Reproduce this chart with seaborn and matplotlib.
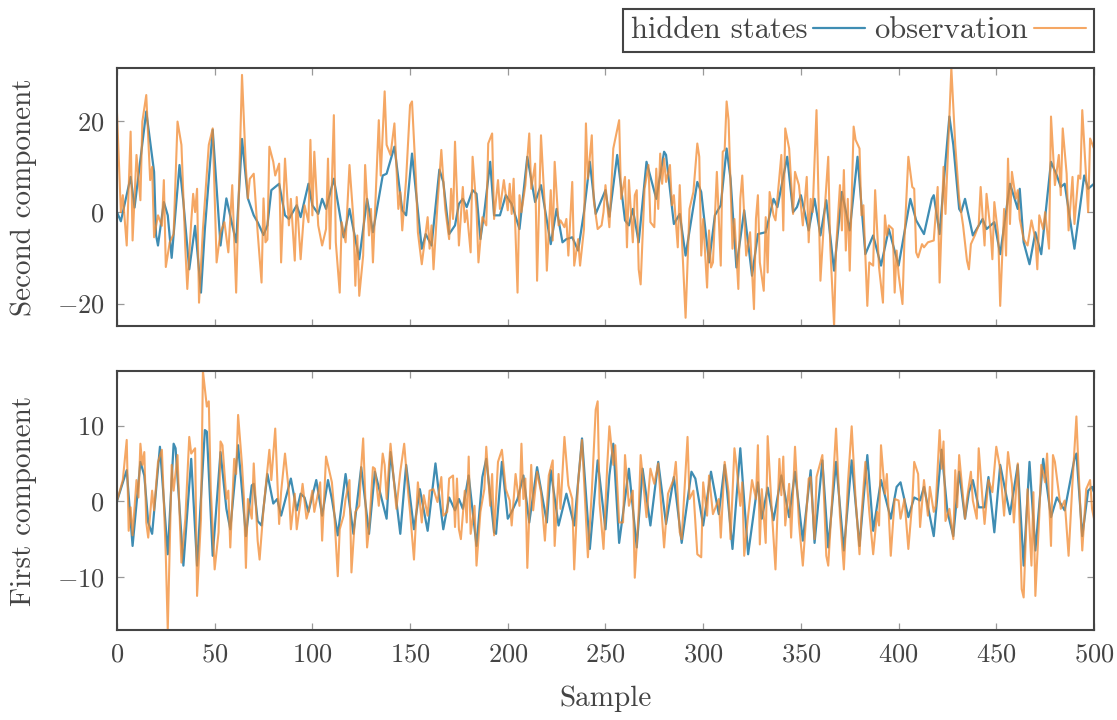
import matplotlib
matplotlib.use("Agg")
import matplotlib.pyplot as plt
import seaborn as sns
import pandas as pd

# values (sample index, value)
top_hidden_x = [0, 2, 7, 9, 15, 19, 20, 21, 24, 26, 28, 32, 34, 37, 40, 43, 45, 49, 53, 56, 61, 64, 67, 70, 72, 75, 77, 79, 83,
                86, 88, 92, 94, 98, 100, 103, 105, 107, 111, 116, 119, 124, 128, 131, 136, 138, 142, 146, 148, 151, 156, 158, 161,
                165, 167, 170, 173, 175, 177, 179, 182, 184, 186, 188, 191, 193, 196, 199, 202, 206, 210, 214, 217, 222, 225, 228,
                230, 233, 236, 239, 242, 245, 250, 252, 256, 260, 262, 264, 267, 271, 276, 280, 281, 285, 288, 291, 297, 299, 303,
                306, 309, 312, 314, 317, 321, 325, 328, 332, 336, 338, 343, 346, 348, 350, 354, 357, 360, 363, 367, 371, 375, 379,
                383, 387, 391, 395, 400, 406, 409, 413, 417, 418, 421, 424, 426, 428, 431, 432, 434, 438, 443, 445, 449, 452, 457,
                461, 462, 464, 467, 470, 473, 478, 481, 483, 485, 490, 495, 497, 500]
top_hidden_y = [0, -2, 7.7, 1, 22, 8.8, -5, -7.3, 2.2, -0.7, -10, 10.3, 2.2, -12.5, -3, -17.6, -3.7, 18, -7.3, 3, -6.6, 16, 3, -0.7, -2.2, -5, -2.9, 4.8, 6.2,
                -0.7, -1.5, 1.5, -1.1, 6.2, 1.5, -0.4, 2.9, 0.7, 7.3, -5.5, 0.7, -10.3, 2.9, -4.4, 8, 8.4, 14.3, 0.4, -0.7, 12.8, -8, -4.8, -7.3,
                9.3, 6.6, -4.8, -2.9, 1.8, 2.9, 1.1, 4.8, 4, -5.9, 0, 11, -0.7, -0.7, 3.7, 1.8, -3.7, 12.1, 2.2, 5.9, -7, 0.7, -6.6,
                -5.9, -5.5, -8.4, 0, 11, -0.4, 4.8, -1, 12.5, -1.8, -2.9, 0.7, -6.6, 11, 2.9, 13.2, 12.5, -2.6, -0.4, -9.5, 6.6, 4.4, -11,
                -0.7, 1.5, 13.9, 7.3, -12.1, 0.4, -13.9, -4.8, -4.4, 2.9, 1.1, 12.1, 0, 1.1, 3.7, -4, 2.9, -5.1, 2.6, -12.8, 4.4, -4, 12.1,
                -9.2, -5.1, -11.7, -3.7, -11.7, 2.9, -1.8, -4.8, 2.9, 3.7, -4.8, 11, 20.9, 14.7, 0.7, 0, 2.9, -5.1, -1.5, -3.7, -2.2, -9.2, 6.2,
                0.7, 5.1, -6.6, -11.4, -4.4, -9.2, 11, 8, 5.5, 6.2, -8, 8, 5.1, 6.2]

top_obs_x = [0, 2, 3, 5, 7, 8, 10, 12, 13, 15, 17, 18, 19, 21, 23, 24, 25, 27, 29, 31, 33, 35, 36, 38, 39, 40, 41, 42, 44, 47, 49,
             51, 53, 55, 57, 59, 61, 64, 66, 67, 68, 70, 72, 74, 75, 76, 77, 78, 80, 81, 83, 84, 86, 88, 89, 91, 92, 94, 96, 98,
             99, 100, 101, 103, 105, 107, 108, 109, 111, 112, 114, 115, 117, 119, 121, 122, 123, 124, 126, 127, 129, 130, 131,
             134, 135, 137, 138, 140, 142, 144, 145, 146, 148, 150, 151, 153, 154, 156, 157, 159, 160, 161, 162, 164, 166, 168,
             170, 171, 172, 173, 175, 177, 178, 179, 181, 182, 184, 185, 187, 189, 190, 192, 193, 195, 196, 198, 200, 201, 202,
             203, 205, 206, 207, 209, 211, 212, 214, 215, 217, 219, 220, 222, 223, 224, 226, 227, 229, 230, 231, 233, 234, 236,
             237, 239, 240, 241, 243, 244, 246, 248, 249, 250, 252, 254, 257, 258, 260, 261, 262, 264, 265, 266, 267, 268, 270,
             272, 273, 275, 276, 277, 278, 279, 280, 281, 283, 284, 285, 287, 288, 289, 291, 293, 295, 297, 298, 299, 300, 302,
             303, 304, 305, 307, 309, 310, 311, 312, 313, 315, 316, 318, 319, 320, 322, 324, 326, 327, 328, 329, 331, 332, 333,
             334, 336, 337, 340, 341, 342, 344, 346, 347, 349, 351, 353, 354, 355, 356, 358, 360, 362, 364, 365, 367, 368, 370,
             371, 372, 373, 374, 375, 377, 378, 380, 381, 382, 384, 385, 387, 388, 390, 392, 393, 394, 395, 397, 398, 399, 400,
             402, 403, 405, 407, 408, 409, 410, 412, 413, 415, 418, 420, 421, 423, 424, 427, 429, 431, 433, 435, 436, 437, 439,
             441, 442, 444, 445, 447, 448, 449, 451, 452, 454, 455, 456, 457, 458, 460, 461, 462, 464, 466, 468, 470, 471, 472,
             474, 475, 477, 478, 480, 482, 483, 484, 486, 487, 489, 490, 492, 493, 494, 496, 497, 498, 500]
top_obs_y = [22, 0, 3.7, -7.3, 17.6, -6.2, 12.5, 2.6, 19.8, 25.6, 7, 9.9, -5.5, -0.7, -3, 7, -12, -6.6, -4.8, 19.8, 14.7, -8, -16.8, -2.2, 4, 0, 5.1, -19.8, -3.7, 14.7, 18.3,
             -11, -4.4, -2.2, -8.8, 5.9, -17.6, 30, 9.5, 3, 7.3, 8.4, -4.4, -15.4, 3, -6.6, -6, 14.3, 11, 8, 10.6, -11, 11.7, -2.9, 2.9, -10.6, 3.3, -10.3, 1.5, -2.2,
             15.8, -0.7, 13.2, -2.9, -7.3, -3.7, 11.7, -8, 21.2, -6.6, -17.6, -2.2, -6.6, 10.3, -1.5, -16.1, -5.1, -18.3, -9.5, 10.3, -5.1, 0.7, -11,
             20.1, 8, 26.4, 14.7, 12.5, 19.4, 0.7, 4.4, -4, 7.3, 23.4, 24.2, 7.3, -4.4, -11.4, -8, -1.1, -8, -2.9, -12.5, 1.5, 13.6, 0.7,
             -5.9, 5.1, -1.5, 15.4, -7.3, 5.5, -2.2, 0.4, -8.8, 12.1, 0.7, -11, -1.1, -2.9, 15, 17.2, -1.5, 7, 0.7, 7, 0.4, 6.2, -0.4,
             7.3, -17.6, 3.7, 0, 5.9, 17.2, 5.1, 10.6, -15, 16.8, 0.7, -12.8, 4.8, -6.2, 11, -2.9, -1.8, -3.3, -1.5, -9.5, 6.6, -11.7, -5.9,
             -11.7, -3.7, 19.4, 7.3, 16.8, 2.6, -3.7, -2.9, 0, 5.9, -3.3, 13.9, 20.1, 2.9, 7.7, -7.7, 7, -6.6, 3.7, 4.8, -12.5, -15.8, 5.1,
             10.3, -2.2, -3.3, 9.5, 0.7, 12.8, 6.2, 11.7, 6.6, 10.3, 1.5, 3.7, -7.7, 5.9, -4.8, -23.1, 0.7, 4.4, 15, 12.1, -9.5, -1.5, -16.5,
             -4, -12.1, -11, 8.8, -11.7, 13.2, 13.6, 24.2, 20.1, -8, -1.5, -16.8, 2.9, 8, -9.5, -4.4, -21.2, -1.5, 3.7, -11, -17.2, -1.1, -13.2,
             4.4, -0.7, -1.8, 12.5, -4, 18.3, 13.9, -0.4, 8.8, 5.9, -2.9, 7.7, -6.6, 2.9, 0, 22.3, -15, -0.7, 12.1, -7.3, -24.9, -8, 5.9,
             -4, 9.2, -8.4, 2.9, -12.8, 18.7, 15.8, 13.9, -0.7, 1.5, -20.5, -11, -11.7, 4.8, -12.1, -19.8, -0.7, -5.1, -2.9, -3.7, -17.6, -8.4, -13.6,
             -20.1, -5.9, 12.1, 5.5, 5.1, -8.8, -9.9, -7, -7.7, -6.6, -6.2, 5.5, -15.4, 9.9, -0.4, 31.5, 14.7, 2.9, -2.9, -10.6, -12.5, -7, -5.1,
             -2.9, 5.5, -7.3, 4, -3.7, -10.3, 2.2, -5.1, -20.5, 0.7, -9.5, 11.7, -2.6, 8.8, 2.9, 4.8, -1.5, -5.9, -7.3, -1.8, -5.9, -12.5, -0.7,
             -3.7, 0, -8, 20.9, 5.9, 12.5, 3.7, 18.3, 8.4, -4, 7.7, -2.6, 8, 7.3, 22.3, 7.3, 0, 16.1, 13.9]

bot_hidden_x = [0, 5, 8, 12, 14, 16, 18, 22, 26, 29, 30, 34, 38, 41, 45, 46, 49, 53, 56, 58, 62, 66, 69, 70, 72, 74, 77, 80, 82, 84,
                89, 92, 94, 96, 98, 102, 105, 108, 110, 113, 117, 121, 125, 129, 132, 138, 140, 145, 148, 152, 155, 159, 163, 165,
                167, 170, 173, 175, 177, 180, 184, 187, 189, 193, 194, 197, 200, 202, 205, 208, 211, 215, 220, 222, 226, 230, 234,
                238, 242, 246, 250, 252, 254, 257, 262, 266, 269, 273, 277, 281, 285, 289, 294, 296, 300, 304, 308, 311, 315, 319,
                323, 328, 330, 333, 336, 340, 344, 347, 351, 355, 357, 361, 364, 368, 372, 376, 380, 384, 387, 391, 396, 399, 401,
                405, 408, 411, 413, 418, 422, 425, 428, 431, 434, 436, 438, 441, 444, 446, 449, 452, 457, 461, 464, 467, 470, 474,
                478, 481, 485, 490, 491, 494, 497, 499, 500]
bot_hidden_y = [0, 4.1, -5.9, 5.2, 3.4, -2.8, -4.3, 7.2, -7, 7.6, 7, -8.5, 5.6, -8.5, 9.4, 9.2, -7.2, 6.5, -1, -3.7, 7.4, -4.6, 2.1, 2.3, -2.6, -3.2, 3.6, -0.3, 0.3, -1.9,
                3, -1.2, 1, 0.5, -1.4, 2.8, -1.9, 2.8, 0.3, -4.5, 3.6, -4.3, 4.5, -4.3, 3.9, -2.3, 6.5, -4.3, 4.8, -3.7, 1.6, -3.9, 5, 0.5,
                -3.7, 0.5, -1.2, 0.3, -1, 3.4, -5.9, 3.2, 5.6, -4.1, -4.3, 5.2, -2.3, -1.4, 0.3, 3.4, -2.8, 4.5, -2.8, 4.1, -3.2, 1, -3.2,
                8.3, -6.3, 5.4, -3.7, 3.4, 7.6, -5.5, 4.3, -6.1, 4.3, -3.2, 5.2, -3, 3.2, -5.5, 3.9, 3, -3.2, 3.9, -1.7, 4.8, -6.3, 7,
                -7, 2.5, -2.3, 1.8, -2.5, 3.4, -2.1, 3.9, -5.2, 4.1, -5.5, 5.4, -6.1, 5.2, -6.5, 5.4, -5.9, 6.1, -3.9, 2.8, -2.3, 1.9, 2.5,
                -2.1, 0.5, 0.1, 1.9, -4.6, 6.8, -1.4, -4.6, 3.9, -2.3, 1.2, 2.8, -0.8, -0.8, 3.2, -4.1, 4.8, -1.7, 4.8, -8.5, 5.2, -6.5, 5.6,
                -2.1, 0.5, -1.2, 5.6, 6.3, -4.6, 1.4, 1.9, 1.2]

bot_obs_x = [0, 3, 5, 6, 7, 8, 10, 11, 12, 13, 14, 15, 16, 18, 19, 21, 23, 24, 25, 26, 28, 29, 31, 32, 33, 35, 37, 38, 40, 41, 43,
             44, 46, 47, 48, 50, 52, 53, 54, 56, 57, 58, 60, 61, 62, 64, 65, 66, 67, 69, 70, 72, 73, 75, 78, 79, 81, 83, 84, 86,
             88, 89, 91, 92, 94, 95, 97, 98, 100, 101, 104, 105, 107, 110, 111, 113, 114, 116, 117, 119, 120, 122, 124, 125, 126,
             128, 129, 131, 132, 134, 136, 137, 138, 140, 143, 145, 147, 149, 150, 152, 154, 156, 157, 159, 160, 162, 164, 166,
             167, 169, 170, 172, 173, 174, 175, 176, 178, 179, 180, 181, 183, 184, 186, 188, 189, 191, 192, 193, 195, 197, 199,
             201, 202, 204, 206, 207, 208, 209, 210, 212, 213, 215, 217, 219, 221, 223, 224, 226, 227, 229, 231, 233, 234, 236,
             238, 241, 243, 245, 246, 247, 249, 251, 252, 254, 255, 257, 259, 260, 262, 264, 265, 267, 268, 271, 273, 275, 277,
             280, 282, 285, 286, 288, 289, 292, 293, 295, 297, 299, 300, 302, 303, 305, 308, 309, 311, 313, 314, 316, 317, 319,
             320, 321, 323, 325, 327, 328, 329, 330, 332, 333, 335, 337, 339, 340, 341, 342, 344, 345, 347, 349, 351, 354, 355,
             357, 358, 361, 363, 364, 366, 368, 370, 372, 374, 376, 378, 380, 381, 383, 385, 387, 389, 390, 391, 393, 394, 396,
             398, 400, 401, 403, 405, 407, 408, 410, 411, 413, 415, 416, 418, 419, 421, 422, 423, 424, 426, 428, 429, 430, 431,
             434, 435, 437, 438, 440, 441, 443, 444, 446, 448, 450, 452, 454, 456, 458, 459, 461, 463, 464, 466, 468, 469, 470,
             472, 473, 475, 476, 478, 479, 480, 483, 485, 487, 489, 491, 492, 494, 496, 498, 499, 500]
bot_obs_y = [0, 2.8, 8.1, -3.9, -0.8, -4.5, 2.8, 0.5, 7.6, 4.8, 6.5, -2.8, -4.8, 1.4, -1.2, 5.2, 6.8, -0.1, -7.2, -17, 4.8, 1.4, 6.1, -1.4, -8.1, -2.3, 8.5, 6.3, 7, -12.5, -2.3,
             17.2, 12.5, 13.2, 1.7, -9, -4.1, 7.9, 7.4, 0.3, 1.4, -6.1, 5.6, 3.6, 11.4, 4.8, 0.3, -8.8, 0.3, -2.3, 5, -5.2, -7.7, -1, 6.8, 2.8, 9.6, -3, 1.2, 6.3,
             1.2, -3.7, 1, -3.7, 0.1, 2.3, -2.3, -1.4, 1.4, -1.4, 2.5, -5.2, 5.9, 2.5, -0.6, -9.9, -3.7, -1.9, 0.3, 2.8, -9.4, -1.4, -0.6, 4.5, 8.3,
             -6.1, -3.7, 4.5, 4.3, -0.6, 6.3, 4.8, 0.3, 7.6, -1, 3.9, 7.6, 1.2, -1.4, -7.7, 2.5, -2.8, 0.8, -1.9, 1.4, 1.6, -0.1, 3.2,
             -1.9, -1.4, 3, 3.4, -3.4, 3, -3.7, -5, 1.4, -2.8, 5.9, -4.3, -0.6, -8.5, -1.4, 1.6, 7.2, -0.6, 3.6, -4.5, 5.2, 6.8, 1.6,
             0.1, -3.2, 3.6, -0.6, 7.6, 0.3, 3, -8.8, 4.8, -1.2, 3.9, 1.2, -5.2, 3.4, 5.4, -5.9, 3.6, -1, 8.5, 2.1, 0.3, -9, 2.5,
             8.1, -7.4, 1.2, 12.1, 13.2, -0.3, -6.3, 5.2, 9.9, 4.8, 7.4, -2.8, -2.8, 6.1, -0.6, 1.4, -10.1, -1.4, 6.1, -2.1, 4.3, 2.3, 5,
             -6.1, 1, 3, 5.2, -4.1, -5, 8.5, 0.3, 1.4, -7, -7.4, 2.5, -1.9, 3.4, -1.7, 0.3, -4.8, 5.2, 1.2, -5, 7, 4.8, -0.6,
             2.5, -7.2, -1.9, 2.8, 0.3, 7.4, -5.7, 1.6, -5.5, 8.6, -0.7, -9, 5.6, 0.8, 5.9, -3.2, 2.3, -4.8, 7.2, -2.8, -8.5, 3, 3.2,
             -5, 3.2, 6.1, -7.2, -8.5, 0.3, 9.6, -1.9, -9, 2.1, 9.9, 0.3, -7, -1.9, 5.2, -1.4, -7, -1.4, -3.2, 7.4, 1, 3.6, -7.2,
             0.3, 0.1, -2.3, 0.3, -6.3, -0.1, 5.2, 3.6, -3.4, 2.8, -1.9, 1.9, -1.4, -0.6, 9.4, 4.3, 7.9, -2.6, -1, -5, 4.1, -0.8, 6.1,
             -2.3, 0.3, 3.9, 0.1, -2.3, 7, 0.1, -3, 2.8, 1.2, 7.2, 4.3, -1.9, 6.5, 2.3, -2.8, 5, -11.6, -12.7, 1.6, -8.5, 1.2, -12.5,
             -1.9, 4.8, 2.5, 6.3, -5.9, 6.1, 5.2, -1, 0.1, -7.2, 2.5, 11.2, 4.8, -6.5, 1.6, 2.8, -1, -2.3]

xticks = [0, 50, 100, 150, 200, 250, 300, 350, 400, 450, 500]

blue = "#3f8db3"
orange = "#f28a30"

sns.set_theme(style="white")
plt.rcParams["font.family"] = ["cmr10", "DejaVu Serif"]
plt.rcParams["mathtext.fontset"] = "cm"
plt.rcParams["axes.formatter.use_mathtext"] = True
plt.rcParams["axes.unicode_minus"] = True

fig = plt.figure(figsize=(11.17, 7.2), dpi=100)
ax_top = fig.add_axes([0.1047, 0.5472, 0.8747, 0.3583])
ax_bot = fig.add_axes([0.1047, 0.125, 0.8747, 0.3597])

panels = [
    (ax_top, top_hidden_x, top_hidden_y, top_obs_x, top_obs_y, "Second component", [-20, 0, 20]),
    (ax_bot, bot_hidden_x, bot_hidden_y, bot_obs_x, bot_obs_y, "First component", [-10, 0, 10]),
]

for ax, hx, hy, ox, oy, ylab, yt in panels:
    dh = pd.DataFrame({"x": hx, "y": hy})
    do = pd.DataFrame({"x": ox, "y": oy})
    sns.lineplot(data=dh, x="x", y="y", ax=ax, color=blue, lw=1.6, estimator=None, sort=False,
                 label="hidden states")
    sns.lineplot(data=do, x="x", y="y", ax=ax, color=orange, lw=1.5, alpha=0.75, estimator=None, sort=False,
                 label="observation")
    ax.set_xlim(0, 500)
    ax.set_ylim(min(oy), max(oy))
    ax.set_xticks(xticks)
    ax.set_yticks(yt)
    ax.set_ylabel(ylab, fontsize=21, color="#444444", labelpad=14)
    ax.set_xlabel("")
    ax.tick_params(direction="in", length=5, width=0.9, color="#999999", labelsize=19,
                   labelcolor="#444444", top=True, right=True, bottom=True, left=True, pad=9)
    for sp in ax.spines.values():
        sp.set_color("#444444")
        sp.set_linewidth(1.5)
    ax.get_legend().remove()

ax_top.tick_params(labelbottom=False)
ax_bot.set_xlabel("Sample", fontsize=21, color="#444444", labelpad=14)

handles, labels = ax_top.get_legend_handles_labels()
leg = fig.legend(handles, labels, loc="lower right", bbox_to_anchor=(1094 / 1117, 1 - 52 / 720),
                 ncol=2, markerfirst=False, frameon=True, fancybox=False, framealpha=1,
                 fontsize=22, borderaxespad=0, handlelength=1.7, handletextpad=0.2,
                 columnspacing=0.3, borderpad=0.25)
leg.get_frame().set_edgecolor("#444444")
leg.get_frame().set_linewidth(1.5)
for t in leg.get_texts():
    t.set_color("#444444")

fig.savefig("out.png", dpi=100)
